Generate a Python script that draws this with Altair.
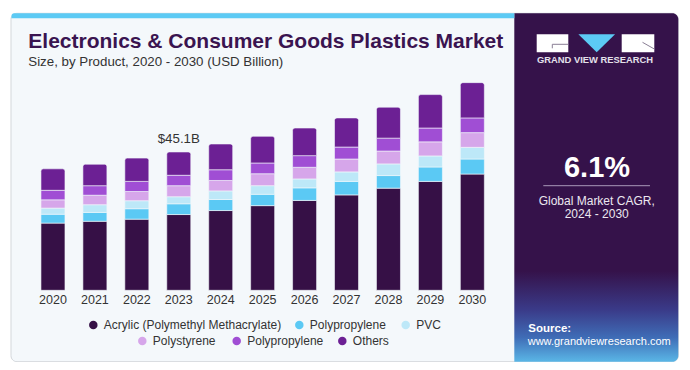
import altair as alt
import pandas as pd

# ---------------- data ----------------
years = ["2020", "2021", "2022", "2023", "2024", "2025", "2026", "2027", "2028", "2029", "2030"]
series_names = ["Acrylic (Polymethyl Methacrylate)", "Polypropylene", "PVC",
                "Polystyrene", "Polypropylene", "Others"]
series_colors = ["#361046", "#5bc9f4", "#bde8f8", "#d6a6ea", "#a04ed4", "#6c2094"]

acrylic = [21.9, 22.5, 23.2, 24.7, 26.0, 27.6, 29.3, 31.1, 33.3, 35.5, 37.9]
polypropylene_blue = [2.9, 2.9, 3.4, 3.5, 3.6, 3.7, 4.1, 4.4, 4.1, 4.7, 4.9]
pvc = [2.0, 2.5, 2.6, 2.3, 2.8, 2.8, 2.9, 3.1, 3.8, 3.6, 3.8]
polystyrene = [2.7, 3.1, 3.0, 3.6, 3.4, 3.9, 3.8, 4.2, 4.2, 4.6, 4.8]
polypropylene_purple = [3.1, 3.1, 3.3, 3.4, 3.5, 3.5, 3.8, 3.9, 4.2, 4.5, 4.8]
others = [7.0, 7.0, 7.6, 7.6, 8.4, 8.7, 9.0, 9.5, 10.1, 10.9, 11.5]

highlight_year = "2023"
title_text = "Electronics & Consumer Goods Plastics Market"
subtitle_text = "Size, by Product, 2020 - 2030 (USD Billion)"
cagr_value = "6.1%"
cagr_lines = ["Global Market CAGR,", "2024 - 2030"]
brand = "GRAND VIEW RESEARCH"
source_lines = ["Source:", "www.grandviewresearch.com"]

# ---------------- tables ----------------
series_values = [acrylic, polypropylene_blue, pvc, polystyrene, polypropylene_purple, others]
keys = [f"s{i}" for i in range(len(series_names))]
rows = []
for yi, yr in enumerate(years):
    base = 0.0
    for si, vals in enumerate(series_values):
        v = vals[yi]
        rows.append({"year": yr, "key": keys[si], "name": series_names[si],
                     "y0": base, "y1": base + v, "v": v})
        base += v
df = pd.DataFrame(rows)
totals = df.groupby("year", as_index=False)["v"].sum()
lab = totals[totals["year"] == highlight_year].copy()
lab["label"] = lab["v"].map(lambda t: f"${t:.1f}B")
year_df = pd.DataFrame({"year": years})
one = pd.DataFrame({"a": [0]})

FONT = "Liberation Sans"
TXT = "#333333"

xscale = alt.Scale(domain=years, range=[24.0, 485.3], paddingInner=0.4276, paddingOuter=0.2138)
yscale = alt.Scale(domain=[0, 80], range=[282.3, 36.9])
cscale = alt.Scale(domain=keys, range=series_colors)


def rect(x, x2, y, y2, **kw):
    return alt.Chart(one).mark_rect(**kw).encode(
        x=alt.value(x), x2=alt.value(x2), y=alt.value(y), y2=alt.value(y2))


def rule(x, x2, y, y2, **kw):
    return alt.Chart(one).mark_rule(**kw).encode(
        x=alt.value(x), x2=alt.value(x2), y=alt.value(y), y2=alt.value(y2))


def text(x, y, s, **kw):
    kw.setdefault("font", FONT)
    kw.setdefault("baseline", "alphabetic")
    return alt.Chart(one).mark_text(text=s, **kw).encode(x=alt.value(x), y=alt.value(y))


layers = []
# card background
layers.append(rect(3, 670.3, 5.3, 353.7, fill="#f4f8fb", stroke="#d3d7db", strokeWidth=1, cornerRadius=6))
# right panel with gradient bottom
grad = alt.Gradient(gradient="linear",
                    stops=[alt.GradientStop(color="#35124a", offset=0),
                           alt.GradientStop(color="#35124a", offset=0.74),
                           alt.GradientStop(color="#3a3a88", offset=0.85),
                           alt.GradientStop(color="#3f6cb6", offset=0.93),
                           alt.GradientStop(color="#5ab6e6", offset=1)],
                    x1=0, x2=0, y1=0, y2=1)
layers.append(rect(506.3, 670.3, 5.3, 353.7, fill=grad, cornerRadiusTopRight=6, cornerRadiusBottomRight=6))
# top stripe
layers.append(rect(3.5, 506.3, 5.3, 10.3, fill="#5ccaf4", cornerRadiusTopLeft=5))

# bars
bars_main = alt.Chart(df[df["key"] != keys[-1]]).mark_bar(stroke="#f4f8fb", strokeWidth=0.6).encode(
    x=alt.X("year:N", scale=xscale, axis=None),
    y=alt.Y("y0:Q", scale=yscale, axis=None),
    y2="y1:Q",
    color=alt.Color("key:N", scale=cscale, legend=None),
)
bars_top = alt.Chart(df[df["key"] == keys[-1]]).mark_bar(
    stroke="#f4f8fb", strokeWidth=0.6, cornerRadiusTopLeft=2.5, cornerRadiusTopRight=2.5).encode(
    x=alt.X("year:N", scale=xscale, axis=None),
    y=alt.Y("y0:Q", scale=yscale, axis=None),
    y2="y1:Q",
    color=alt.Color("key:N", scale=cscale, legend=None),
)
layers += [bars_main, bars_top]

# year labels
layers.append(alt.Chart(year_df).mark_text(font=FONT, fontSize=12.5, color=TXT, baseline="alphabetic").encode(
    x=alt.X("year:N", scale=xscale, axis=None), y=alt.value(296), text="year:N"))
# total label
layers.append(alt.Chart(lab).mark_text(font=FONT, fontSize=13.3, color=TXT, baseline="alphabetic", dy=-9).encode(
    x=alt.X("year:N", scale=xscale, axis=None), y=alt.Y("v:Q", scale=yscale, axis=None), text="label:N"))

# titles
layers.append(text(20.3, 40.3, title_text, fontSize=21, fontWeight="bold", color="#3a1450", align="left"))
layers.append(text(20.3, 57.7, subtitle_text, fontSize=13.3, color=TXT, align="left"))

# manual legend (layout)
legend_layout = [(85.3, 317), (291.3, 317), (397.7, 317), (134.3, 333), (228.7, 333), (334.3, 333)]
for (cx, cy), nm, col in zip(legend_layout, series_names, series_colors):
    layers.append(alt.Chart(one).mark_point(shape="circle", filled=True, size=72, opacity=1, color=col).encode(
        x=alt.value(cx), y=alt.value(cy)))
    layers.append(text(cx + 10.5, cy, nm, fontSize=12, color=TXT, align="left", baseline="middle"))

# logo
layers.append(rect(528.7, 560.3, 26.3, 44.3, fill="white"))
layers.append(rect(613.7, 646.3, 26.3, 44.3, fill="white"))
layers.append(rule(544.3, 560.3, 36.3, 36.3, color="#8a7f95", strokeWidth=1))
layers.append(rule(544.3, 544.3, 36.3, 40.3, color="#8a7f95", strokeWidth=1))
layers.append(rule(634.5, 646.3, 34.3, 41.0, color="#8a7f95", strokeWidth=1))
layers.append(alt.Chart(one).mark_point(shape="M-1,-0.49L1,-0.49L0,0.49Z", filled=True, size=1347,
                                        opacity=1, color="#5ccaf4", strokeWidth=0).encode(
    x=alt.value(588.7), y=alt.value(35.3)))
layers.append(text(587, 55.3, brand, fontSize=9.4, fontWeight="bold", color="#e4e0ea"))

# CAGR
layers.append(text(589, 168.7, cagr_value, fontSize=29, fontWeight="bold", color="white"))
layers.append(rule(535.3, 642, 177.7, 177.7, color="#a898b8", strokeWidth=1))
layers.append(text(588.7, 196.5, cagr_lines[0], fontSize=12, color="#ece8f0"))
layers.append(text(588.7, 209.5, cagr_lines[1], fontSize=12, color="#ece8f0"))

# source
layers.append(text(520.3, 324, source_lines[0], fontSize=11.5, fontWeight="bold", color="white", align="left"))
layers.append(text(519.7, 336.5, source_lines[1], fontSize=11, color="white", align="left"))

chart = alt.layer(*layers).properties(
    width=674, height=354,
    autosize=alt.AutoSizeParams(type="none"),
    padding=0,
    background="white",
).configure_view(stroke=None)

chart.save("out.html", embed_options={"renderer": "svg", "actions": False})
